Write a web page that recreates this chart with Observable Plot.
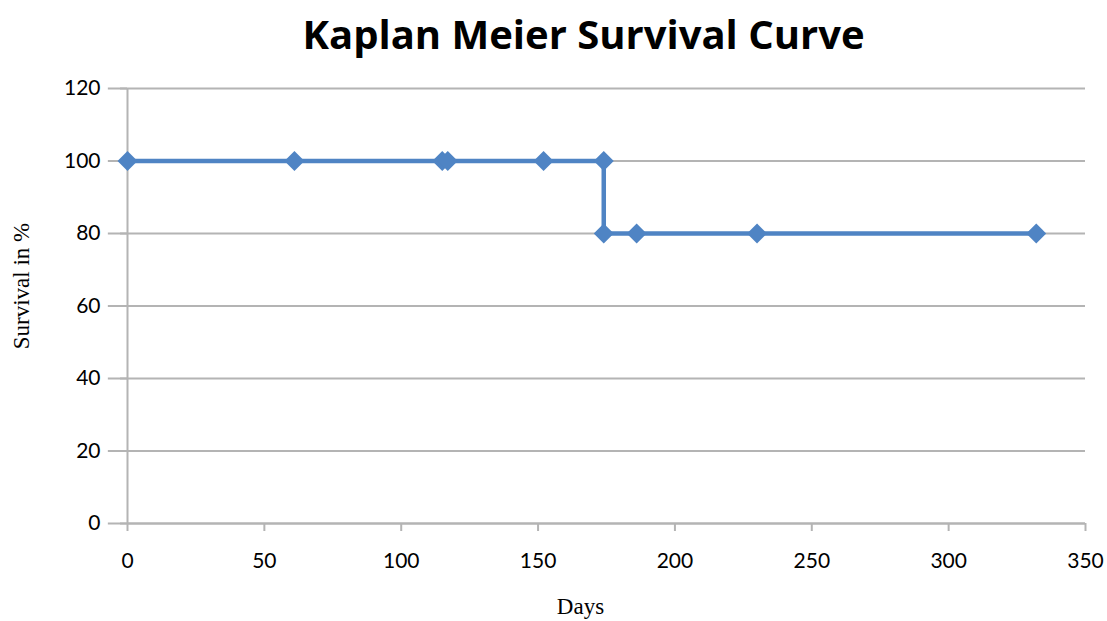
<!DOCTYPE html>
<html><head><meta charset="utf-8">
<script src="https://cdn.jsdelivr.net/npm/d3@7"></script>
<script src="https://cdn.jsdelivr.net/npm/@observablehq/plot@0.6"></script>
<style>
body{margin:0;background:#fff;width:1107px;height:621px;overflow:hidden;}
#title{height:70px;line-height:68px;font-family:'Open Sans',sans-serif;font-weight:bold;font-size:40px;color:#000;text-align:center;padding-left:60px;box-sizing:border-box;width:1107px;}
</style></head>
<body>
<div id="title">Kaplan Meier Survival Curve</div>
<div id="chart"></div>
<script>
const days = [0, 61, 115, 117, 152, 174, 174, 186, 230, 332];
const survival = [100, 100, 100, 100, 100, 100, 80, 80, 80, 80];
const xTicks = [0, 50, 100, 150, 200, 250, 300, 350];
const yTicks = [0, 20, 40, 60, 80, 100, 120];
const data = days.map((d, i) => ({day: d, surv: survival[i]}));
const blue = "#4f84c4";
const grid = "#b4b4b4";
const plot = Plot.plot({
  width: 1107, height: 551,
  marginTop: 18, marginBottom: 98, marginLeft: 127, marginRight: 22,
  style: {fontFamily: "Lato, sans-serif", fontSize: "21px", color: "#000", background: "#fff"},
  x: {domain: [0, 350], ticks: xTicks},
  y: {domain: [0, 120], ticks: yTicks},
  marks: [
    Plot.gridY(yTicks, {stroke: grid, strokeOpacity: 1, strokeWidth: 2, x1: -7}),
    Plot.ruleX([0], {stroke: grid, strokeWidth: 2}),
    Plot.axisY({ticks: yTicks, tickSize: 7, tickPadding: 20, stroke: grid, strokeWidth: 2, label: null}),
    Plot.axisX({ticks: xTicks, tickSize: 8, tickPadding: 22, stroke: grid, strokeWidth: 2, label: null}),
    Plot.ruleY([0], {stroke: grid, strokeWidth: 2}),
    Plot.line(data, {x: "day", y: "surv", stroke: blue, strokeWidth: 4.5}),
    Plot.dot(data, {x: "day", y: "surv", symbol: "diamond2", r: 9, fill: blue, stroke: "none"}),
    Plot.text(["Days"], {frameAnchor: "bottom", dy: 90, dx: -26, fontFamily: "'Liberation Serif', serif", fontSize: 23}),
    Plot.text(["Survival in %"], {frameAnchor: "left", textAnchor: "middle", dx: -106, dy: -20, rotate: -90, fontFamily: "'Liberation Serif', serif", fontSize: 23})
  ]
});
document.getElementById("chart").appendChild(plot);
</script>
</body></html>
